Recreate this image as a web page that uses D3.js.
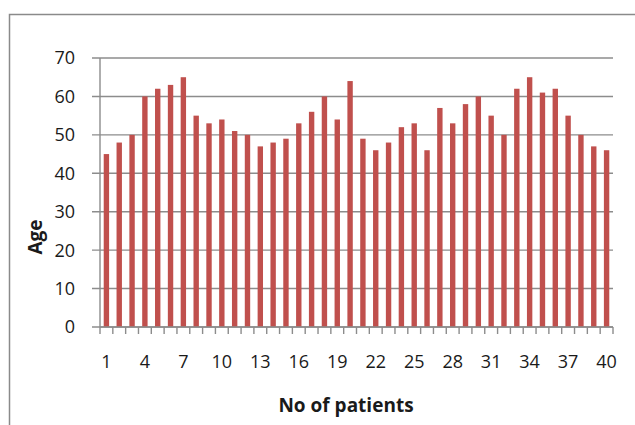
<!DOCTYPE html>
<html>
<head>
<meta charset="utf-8">
<script src="https://cdn.jsdelivr.net/npm/d3@7"></script>
<style>
  body { margin: 0; background: #fff; }
  text { font-family: "Open Sans", sans-serif; fill: #1a1a1a; }
</style>
</head>
<body>
<script>
// patient numbers 1..40 and their ages
var patients = d3.range(1, 41);
var ages = [45, 48, 50, 60, 62, 63, 65, 55, 53, 54,
	51, 50, 47, 48, 49, 53, 56, 60, 54, 64,
	49, 46, 48, 52, 53, 46, 57, 53, 58, 60,
	55, 50, 62, 65, 61, 62, 55, 50, 47, 46];
var yTicks = [0, 10, 20, 30, 40, 50, 60, 70];
var xLabels = [1, 4, 7, 10, 13, 16, 19, 22, 25, 28, 31, 34, 37, 40];

var W = 635, H = 425;
var margin = {top: 58, right: 22, bottom: 98, left: 100},
	width = W - margin.left - margin.right,
	height = H - margin.top - margin.bottom;

var svg = d3.select("body").append("svg")
	.attr("width", W)
	.attr("height", H);

// chart area frame
svg.append("rect")
	.attr("x", 9.5).attr("y", 14.5)
	.attr("width", W).attr("height", H)
	.attr("fill", "none")
	.attr("stroke", "#8a8a8a")
	.attr("stroke-width", 1.5);

var g = svg.append("g")
	.attr("transform", "translate(" + margin.left + "," + margin.top + ")");

var x = d3.scaleBand().domain(patients).range([0, width]).paddingInner(0.58).paddingOuter(0.29);
var y = d3.scaleLinear().domain([0, 70]).range([height, 0]);

// gridlines
g.selectAll("line.grid")
	.data(yTicks)
	.enter().append("line")
	.attr("class", "grid")
	.attr("x1", -8).attr("x2", width)
	.attr("y1", function (d) { return y(d); })
	.attr("y2", function (d) { return y(d); })
	.attr("stroke", "#8c8c8c")
	.attr("stroke-width", 1.4);

g.selectAll("rect.bar")
	.data(ages)
	.enter().append("rect")
	.attr("class", "bar")
	.attr("x", function (d, i) { return x(patients[i]); })
	.attr("width", x.bandwidth())
	.attr("y", function (d) { return y(d); })
	.attr("height", function (d) { return height - y(d); })
	.attr("fill", "#c0504d");

// y axis line
g.append("line")
	.attr("x1", 0).attr("x2", 0)
	.attr("y1", 0).attr("y2", height)
	.attr("stroke", "#8c8c8c").attr("stroke-width", 1.4);

// x axis line + ticks at category boundaries
g.append("line")
	.attr("x1", 0).attr("x2", width)
	.attr("y1", height).attr("y2", height)
	.attr("stroke", "#8c8c8c").attr("stroke-width", 1.4);

var step = x.step();
g.selectAll("line.xtick")
	.data(d3.range(0, patients.length + 1))
	.enter().append("line")
	.attr("class", "xtick")
	.attr("x1", function (d) { return d * step; })
	.attr("x2", function (d) { return d * step; })
	.attr("y1", height).attr("y2", height + 7)
	.attr("stroke", "#8c8c8c").attr("stroke-width", 1.4);

g.selectAll("text.ylab")
	.data(yTicks)
	.enter().append("text")
	.attr("class", "ylab")
	.attr("x", -25)
	.attr("y", function (d) { return y(d); })
	.attr("dy", "0.36em")
	.attr("text-anchor", "end")
	.style("font-size", "18px")
	.text(function (d) { return d; });

g.selectAll("text.xlab")
	.data(xLabels)
	.enter().append("text")
	.attr("class", "xlab")
	.attr("x", function (d) { return x(d) + x.bandwidth() / 2; })
	.attr("y", height + 41)
	.attr("text-anchor", "middle")
	.style("font-size", "18px")
	.text(function (d) { return d; });

svg.append("text")
	.attr("x", 346)
	.attr("y", 412)
	.attr("text-anchor", "middle")
	.style("font-size", "19px")
	.style("font-weight", "bold")
	.text("No of patients");

svg.append("text")
	.attr("transform", "translate(42,237) rotate(-90)")
	.attr("text-anchor", "middle")
	.style("font-size", "19px")
	.style("font-weight", "bold")
	.text("Age");
</script>
</body>
</html>
